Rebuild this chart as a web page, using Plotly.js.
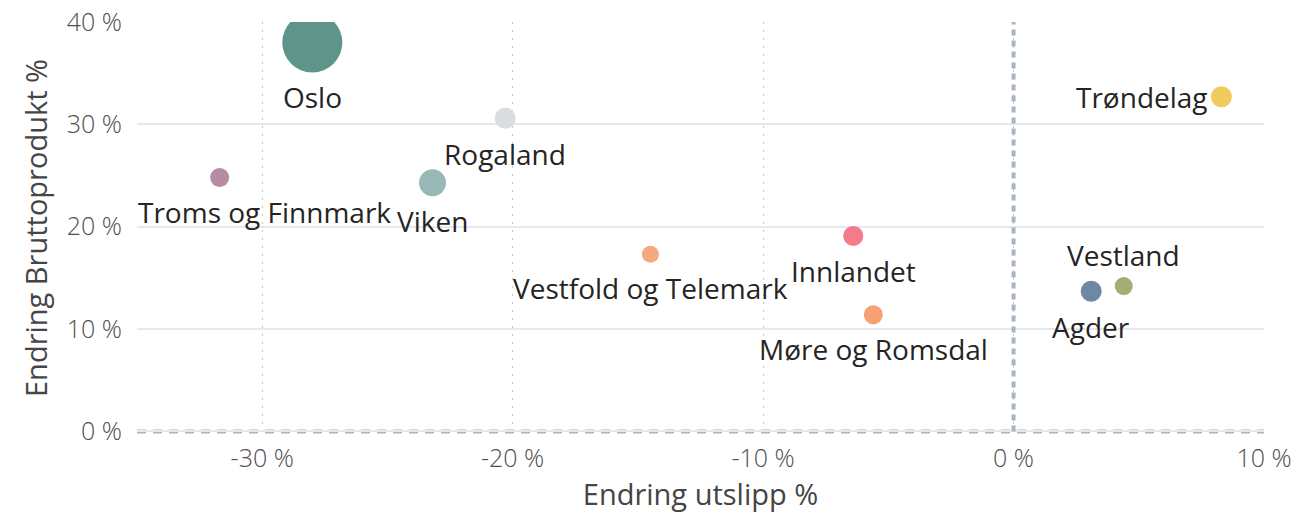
<!DOCTYPE html>
<html>
<head>
<meta charset="utf-8">
<script src="https://cdn.plot.ly/plotly-3.0.1.min.js"></script>
<style>
html,body{margin:0;padding:0;background:#fff;}
#chart{width:1296px;height:513px;}
</style>
</head>
<body>
<div id="chart"></div>
<script>
// ---- data ----
const regions = ["Oslo","Troms og Finnmark","Rogaland","Viken","Innlandet","Vestfold og Telemark","Møre og Romsdal","Agder","Vestland","Trøndelag"];
const endringUtslipp = [-28.0, -31.7, -20.3, -23.2, -6.4, -14.5, -5.6, 3.1, 4.4, 8.3];
const endringBNP = [38.0, 24.8, 30.6, 24.3, 19.1, 17.3, 11.4, 13.7, 14.2, 32.7];
const bubbleWeight = [60, 19, 21, 27, 20, 17, 19, 21, 18, 21];
const xTicks = [-30, -20, -10, 0, 10];
const yTicks = [0, 10, 20, 30, 40];

// ---- styles ----
const colors = ["#5e9489","#b58ca1","#d9dde2","#97b8b5","#f47a8c","#f6a97d","#f6a172","#6c88a3","#a4ae73","#f0cc5e"];
const labelPos = ["below","below","below","below","below","below","below","below","above","left"];
const labelXShift = [0, 45, 0, 0, 0, 0, 0, 0, 0, 0];
const fontFam = "'Open Sans', 'Noto Sans', sans-serif";

const annotations = regions.map((r, i) => {
  const rad = bubbleWeight[i] / 2;
  const a = {
    x: endringUtslipp[i], y: endringBNP[i], xref: 'x', yref: 'y',
    text: r, showarrow: false,
    font: {family: fontFam, size: 28, color: '#252423'},
    xanchor: 'center', yanchor: 'middle', xshift: labelXShift[i]
  };
  if (labelPos[i] === 'below') a.yshift = -(rad + 25);
  else if (labelPos[i] === 'above') a.yshift = (rad + 22);
  else { a.xanchor = 'right'; a.xshift = -(rad + 1); }
  return a;
});

const trace = {
  type: 'scatter', mode: 'markers',
  x: endringUtslipp, y: endringBNP, text: regions,
  marker: {size: bubbleWeight, sizemode: 'diameter', color: colors, opacity: 1, line: {width: 0}},
  cliponaxis: true, hoverinfo: 'text+x+y'
};

const layout = {
  width: 1296, height: 513,
  margin: {l: 137, r: 32, t: 22, b: 78.5},
  paper_bgcolor: '#ffffff', plot_bgcolor: '#ffffff',
  showlegend: false,
  font: {family: fontFam, color: '#555555'},
  xaxis: {
    range: [-35, 10], tickvals: xTicks, ticktext: xTicks.map(v => v + ' %'),
    showgrid: true, gridcolor: '#c4c4c4', griddash: '2px,6px', gridwidth: 1.2,
    zeroline: false, showline: false, ticks: '', ticklabelstandoff: 7,
    tickfont: {size: 25, color: '#505050', weight: 300},
    title: {text: 'Endring utslipp %', font: {size: 29, color: '#454545'}, standoff: 4}
  },
  yaxis: {
    range: [-0.25, 40], tickvals: yTicks, ticktext: yTicks.map(v => v + ' %'),
    showgrid: true, gridcolor: '#e5e8ed', gridwidth: 2,
    zeroline: false, showline: false, ticks: '', ticklabelstandoff: 14,
    tickfont: {size: 25, color: '#505050', weight: 300},
    title: {text: 'Endring Bruttoprodukt %', font: {size: 29, color: '#454545'}, standoff: 10}
  },
  shapes: [
    {type: 'line', xref: 'x', yref: 'y', x0: 0, x1: 0, y0: 0, y1: 40,
     line: {color: '#a6b5c4', width: 4, dash: '6px,5px'}, layer: 'between'},
    {type: 'line', xref: 'paper', yref: 'y', x0: 0, x1: 1, y0: 0, y1: 0,
     line: {color: '#a6b5c4', width: 4, dash: '9px,7px'}, layer: 'between'}
  ],
  annotations: annotations
};

Plotly.newPlot('chart', [trace], layout, {displayModeBar: false, staticPlot: true});
</script>
</body>
</html>
